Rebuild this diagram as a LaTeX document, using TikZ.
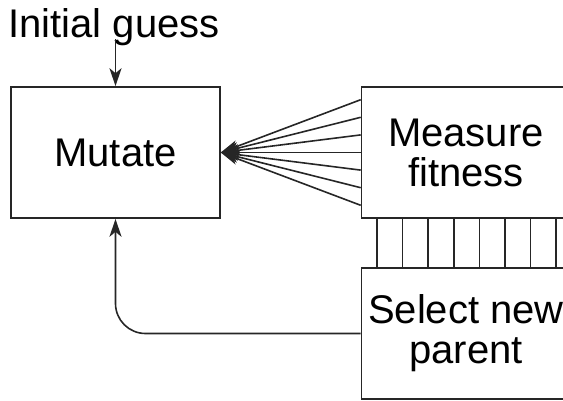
\documentclass[tikz,border=0pt]{standalone}
\usepackage{fontspec}
\setmainfont{Liberation Sans}
\usetikzlibrary{arrows.meta}
\begin{document}
\begin{tikzpicture}[x=1pt,y=-1pt,
  ln/.style={line width=1.6pt, draw=black!85},
  box/.style={ln, rectangle, minimum width=209pt, minimum height=131pt, inner sep=0pt, align=center,
    font=\fontsize{40}{40}\selectfont},
  arr/.style={ln, -{Stealth[length=18pt,width=12pt,inset=5pt]}}]
\useasboundingbox (0,0) rectangle (563,400);
\clip (0,0) rectangle (563,400);
\node[box] (mutate) at (115.5,152.5) {Mutate};
\node[box] (measure) at (466,152.5) {Measure\\fitness};
\node[box] (select) at (466,333.5) {Select new\\parent};
\node[inner sep=0pt, anchor=base, font=\fontsize{40}{40}\selectfont] (init) at (114,37) {Initial guess};
\coordinate (start) at (115.5,39);
\draw[arr] (start) -- (mutate.north);
\foreach \i in {-3,...,3}{
  \draw[arr] ([yshift=\i*17.6pt]measure.west) -- (mutate.east);
}
\foreach \xx in {377,402.6,428.2,453.8,479.4,505,530.6,556.2}{
  \draw[ln] (measure.south -| \xx,0) -- (select.north -| \xx,0);
}
\draw[arr, rounded corners=30pt] (select.west) -| (mutate.south);
\end{tikzpicture}
\end{document}
